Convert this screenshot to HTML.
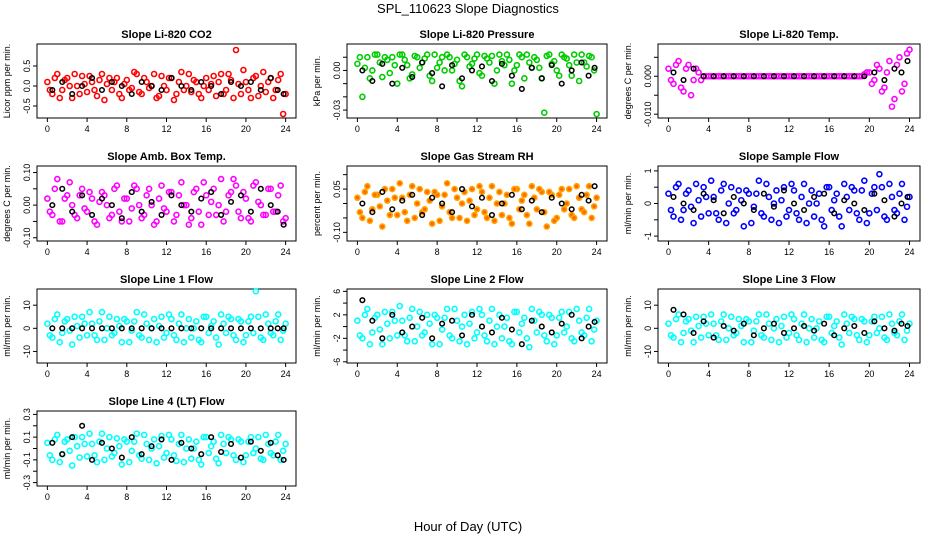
<!DOCTYPE html>
<html><head><meta charset="utf-8"><style>
body{margin:0;background:#fff;}
svg{display:block;font-family:"Liberation Sans",Arial,sans-serif;}
</style></head><body>
<svg id="c" width="936" height="540" viewBox="0 0 936 540">
<text x="468" y="13" text-anchor="middle" font-size="13">SPL_110623  Slope Diagnostics</text>
<text x="468" y="531" text-anchor="middle" font-size="13">Hour of Day (UTC)</text>
</svg>
<script>
const hours=[0,0.5,1,1.5,2,2.5,3,3.5,4,4.5,5,5.5,6,6.5,7,7.5,8,8.5,9,9.5,10,10.5,11,11.5,12,12.5,13,13.5,14,14.5,15,15.5,16,16.5,17,17.5,18,18.5,19,19.5,20,20.5,21,21.5,22,22.5,23,23.5,24];
const hours2=[0.25,0.75,1.25,1.75,2.25,2.75,3.25,3.75,4.25,4.75,5.25,5.75,6.25,6.75,7.25,7.75,8.25,8.75,9.25,9.75,10.25,10.75,11.25,11.75,12.25,12.75,13.25,13.75,14.25,14.75,15.25,15.75,16.25,16.75,17.25,17.75,18.25,18.75,19.25,19.75,20.25,20.75,21.25,21.75,22.25,22.75,23.25,23.75];
const blackHours=[0.5,1.5,2.5,3.5,4.5,5.5,6.5,7.5,8.5,9.5,10.5,11.5,12.5,13.5,14.5,15.5,16.5,17.5,18.5,19.5,20.5,21.5,22.5,23.2,23.8];
const xTicks=[0,4,8,12,16,20,24];

const co2Vals=[0.1,-0.2,0.3,-0.1,0.2,-0.3,0.0,0.25,-0.15,0.1,-0.25,0.3,0.05,-0.1,0.2,-0.3,0.15,-0.05,0.3,-0.2,0.1,0.0,-0.3,0.25,-0.1,0.2,-0.2,0.35,0.0,-0.15,0.1,-0.3,0.2,0.05,-0.25,0.3,-0.1,0.15,0.9,-0.2,0.1,-0.3,0.25,0.0,-0.15,0.2,-0.1,0.3,-0.2];
const co2Vals2=[-0.1,0.2,-0.3,0.15,0.0,0.3,-0.2,0.05,0.25,-0.1,0.15,-0.35,0.2,0.1,-0.2,0.05,-0.1,0.35,-0.15,0.2,-0.05,0.3,-0.25,0.0,0.2,-0.35,0.1,-0.1,0.3,0.15,-0.2,0.0,-0.1,0.25,0.1,-0.2,0.3,-0.3,0.05,0.4,-0.1,0.2,-0.25,0.35,0.1,-0.3,0.15,-0.7];
const co2Black=[-0.1,0.1,-0.2,0.0,0.2,-0.1,0.1,0.0,-0.2,0.1,0.0,-0.1,0.2,0.0,-0.1,0.1,0.0,-0.2,0.1,0.0,0.1,-0.1,0.2,-0.1,-0.2];
const presVals=[0.005,-0.02,0.01,0.0,0.012,-0.005,0.008,0.01,-0.01,0.012,0.004,-0.003,0.01,0.006,0.012,-0.008,0.002,0.01,0.012,0.0,0.008,-0.012,0.01,0.005,0.012,-0.004,0.009,0.011,0.0,0.007,0.012,-0.01,0.004,0.01,0.012,0.002,0.008,-0.006,0.011,0.005,0.0,0.012,0.009,-0.004,0.006,0.012,0.003,0.01,-0.033];
const presVals2=[0.01,0.002,-0.006,0.012,0.006,0.01,-0.002,0.004,0.012,0.008,-0.006,0.011,0.002,0.009,-0.004,0.012,0.006,0.0,0.01,0.005,-0.008,0.012,0.003,0.009,-0.002,0.011,0.006,-0.01,0.012,0.004,0.008,0.0,0.012,-0.006,0.006,0.01,0.002,-0.032,0.012,0.007,-0.004,0.01,0.004,0.012,-0.008,0.006,0.011,0.0];
const presBlack=[0.0,-0.008,0.005,-0.01,0.002,-0.005,0.006,-0.002,-0.012,0.004,-0.006,0.0,0.003,-0.008,0.005,-0.004,-0.014,0.002,-0.006,0.004,-0.01,0.0,0.006,-0.004,0.002];
const tempVals=[0.002,-0.002,0.004,-0.004,0.003,-0.001,0.001,0.0,0.0,0.0,0.0,0.0,0.0,0.0,0.0,0.0,0.0,0.0,0.0,0.0,0.0,0.0,0.0,0.0,0.0,0.0,0.0,0.0,0.0,0.0,0.0,0.0,0.0,0.0,0.0,0.0,0.0,0.0,0.0,0.0005,0.001,-0.001,0.002,-0.003,0.004,-0.006,0.005,-0.002,0.007];
const tempVals2=[-0.001,0.003,-0.003,0.002,-0.005,0.002,-0.001,0.0,0.0,0.0,0.0,0.0,0.0,0.0,0.0,0.0,0.0,0.0,0.0,0.0,0.0,0.0,0.0,0.0,0.0,0.0,0.0,0.0,0.0,0.0,0.0,0.0,0.0,0.0,0.0,0.0,0.0,0.0,0.0,0.001,-0.002,0.003,-0.004,0.001,-0.008,0.003,-0.004,0.006];
const tempBlack=[0.001,-0.001,0.002,0.0,0.0,0.0,0.0,0.0,0.0,0.0,0.0,0.0,0.0,0.0,0.0,0.0,0.0,0.0,0.0,0.0,0.001,-0.001,0.002,0.001,0.004];
const ambVals=[0.02,-0.03,0.08,-0.05,0.03,0.0,-0.04,0.05,-0.02,0.02,-0.06,0.04,0.0,-0.03,0.06,-0.05,0.02,-0.01,0.05,-0.04,0.03,0.0,-0.05,0.06,-0.02,0.04,-0.03,0.07,0.0,-0.04,0.05,-0.06,0.03,0.01,-0.03,0.08,-0.02,0.04,0.06,-0.04,0.02,-0.05,0.07,0.0,-0.03,0.05,-0.02,0.06,-0.04];
const ambVals2=[-0.02,0.05,-0.05,0.02,0.07,-0.03,0.03,-0.01,0.04,-0.05,0.01,0.03,-0.04,0.05,-0.02,0.02,-0.05,0.06,0.0,-0.03,0.05,-0.06,0.02,-0.01,0.04,-0.05,0.03,0.0,-0.06,0.04,-0.02,0.07,-0.03,0.05,0.0,-0.05,0.03,0.08,-0.02,0.04,-0.04,0.06,0.01,-0.03,0.05,-0.02,0.03,-0.05];
const ambBlack=[0.0,0.05,-0.02,0.03,-0.03,0.02,0.0,-0.04,0.04,-0.02,0.01,-0.03,0.03,0.0,-0.02,0.02,0.04,-0.03,0.01,0.03,-0.02,0.05,0.0,-0.02,-0.06];
const rhVals=[0.02,-0.05,0.06,-0.02,0.03,-0.08,0.01,0.05,-0.04,0.02,-0.06,0.06,0.0,-0.03,0.04,-0.07,0.03,-0.01,0.07,-0.05,0.02,0.0,-0.06,0.05,-0.02,0.04,-0.05,0.06,0.0,-0.04,0.03,-0.07,0.05,0.01,-0.04,0.06,-0.02,0.04,-0.08,0.03,-0.05,0.05,0.0,-0.04,0.06,-0.02,0.03,-0.05,0.02];
const rhVals2=[-0.03,0.04,-0.06,0.03,-0.01,0.05,-0.04,0.02,0.07,-0.03,0.03,-0.05,0.05,-0.02,0.01,0.04,-0.06,0.03,-0.03,0.05,-0.05,0.04,0.01,-0.04,0.06,-0.03,0.02,-0.06,0.04,0.0,-0.05,0.05,-0.02,0.03,-0.07,0.02,0.05,-0.03,0.04,-0.06,0.03,-0.02,0.05,-0.05,0.02,-0.03,0.06,-0.01];
const rhBlack=[0.0,-0.03,0.04,-0.02,0.01,0.03,-0.04,0.02,0.0,-0.03,0.05,-0.01,0.02,-0.04,0.0,0.03,-0.02,0.01,-0.03,0.02,0.0,-0.02,0.03,0.01,0.06];
const flowVals=[0.3,-0.4,0.6,-0.2,0.4,-0.6,0.1,0.5,-0.3,0.2,-0.5,0.6,0.0,-0.3,0.4,-0.7,0.3,-0.1,0.7,-0.4,0.2,0.0,-0.6,0.5,-0.2,0.4,-0.5,0.6,0.0,-0.4,0.3,-0.7,0.5,0.1,-0.4,0.6,-0.2,0.4,-0.5,0.7,-0.3,0.5,0.9,-0.4,0.6,-0.2,0.3,-0.5,0.2];
const flowVals2=[-0.2,0.5,-0.5,0.3,-0.1,0.6,-0.4,0.2,0.7,-0.3,0.4,-0.6,0.5,-0.2,0.1,0.4,-0.6,0.3,-0.3,0.6,-0.5,0.4,0.1,-0.4,0.6,-0.3,0.2,-0.6,0.4,0.0,-0.5,0.5,-0.2,0.3,-0.7,0.2,0.5,-0.3,0.4,-0.6,0.3,-0.2,0.5,-0.5,0.2,-0.3,0.6,-0.1];
const flowBlack=[0.2,0.0,-0.2,0.3,0.1,-0.3,0.2,0.0,-0.2,0.3,-0.1,0.4,0.0,-0.2,0.2,0.3,-0.3,0.1,0.0,-0.2,0.3,0.1,-0.4,0.0,0.2];
const l1Vals=[2,-4,6,-2,4,-7,1,5,-3,2,-5,7,0,-3,4,-6,3,-1,7,-4,2,0,-6,5,-2,4,-5,6,0,-4,3,-6,5,1,-4,6,-2,4,-5,3,-3,5,16,-4,6,-2,3,-5,2];
const l1Vals2=[-3,4,-6,3,-1,5,-4,2,7,-3,3,-5,5,-2,1,4,-6,3,-3,6,-5,4,1,-4,6,-3,2,-6,4,0,-5,5,-2,3,-7,2,5,-3,4,-6,3,-2,5,-5,2,-3,6,-1];
const l1Black=[0,0,0,0,0,0,0,0,0,0,0,0,0,0,0,0,0,0,0,0,0,0,0,0,0];
const l2Vals=[1,-2,3,-1,2,-3,0.5,2.5,-1.5,1,-2.5,3,0,-1.5,2,-3,1.5,-0.5,3,-2,1,0,-3,2.5,-1,2,-2.5,3,0,-2,1.5,-3,2.5,0.5,-2,3,-1,2,-2.5,1.5,-1.5,2.5,0,-2,3,-1,1.5,-2.5,1];
const l2Vals2=[-1.5,2,-3,1.5,-0.5,2.5,-2,1,3.5,-1.5,1.5,-2.5,2.5,-1,0.5,2,-3,1.5,-1.5,3,-2.5,2,0.5,-2,3,-1.5,1,-3,2,0,-2.5,2.5,-1,1.5,-3.5,1,2.5,-1.5,2,-3,1.5,-1,2.5,-2.5,1,-1.5,3,-0.5];
const l2Black=[4.5,1,-2,2,-1,0,1.5,-2,0.5,1,-1.5,2,0,-1,1.5,-0.5,-3,1,0,-1,0.5,2,-2,0,0.8];
const l3Vals=[2,-4,6,-2,4,-6,1,5,-3,2,-5,6,0,-3,4,-6,3,-1,6,-4,2,0,-6,5,-2,4,-5,6,0,-4,3,-6,5,1,-4,6,-2,4,-5,3,-3,5,0,-4,6,-2,3,-5,2];
const l3Vals2=[-3,4,-6,3,-1,5,-4,2,6,-3,3,-5,5,-2,1,4,-6,3,-3,6,-5,4,1,-4,6,-3,2,-6,4,0,-5,5,-2,3,-7,2,5,-3,4,-6,3,-2,5,-5,2,-3,6,-1];
const l3Black=[8,6,-2,3,-4,1,-1,2,-3,0,2,-2,0,1,-1,2,-3,0,1,-2,3,0,-1,2,1];
const l4Vals=[0.05,-0.1,0.12,-0.05,0.08,-0.15,0.02,0.1,-0.07,0.04,-0.12,0.13,0.0,-0.07,0.09,-0.14,0.06,-0.02,0.13,-0.09,0.04,0.0,-0.13,0.11,-0.04,0.08,-0.11,0.12,0.0,-0.09,0.06,-0.14,0.1,0.02,-0.09,0.12,-0.04,0.08,-0.1,0.06,-0.06,0.1,0.0,-0.09,0.12,-0.04,0.06,-0.1,0.04];
const l4Vals2=[-0.06,0.08,-0.12,0.06,-0.02,0.1,-0.08,0.04,0.13,-0.06,0.06,-0.1,0.1,-0.04,0.02,0.08,-0.12,0.06,-0.06,0.12,-0.1,0.08,0.02,-0.08,0.12,-0.06,0.04,-0.12,0.08,0.0,-0.1,0.1,-0.04,0.06,-0.13,0.04,0.1,-0.06,0.08,-0.12,0.06,-0.04,0.1,-0.1,0.04,-0.06,0.12,-0.02];
const l4Black=[0.05,-0.05,0.1,0.2,-0.1,0.05,0.0,-0.08,0.1,-0.05,0.02,0.08,-0.1,0.05,0.0,-0.05,0.1,-0.03,0.04,-0.08,0.06,-0.02,0.05,-0.06,-0.1];

const panels=[
 {name:"co2",title:"Slope Li-820 CO2",yt:"Licor ppm per min.",x0:37,x1:296,y0:44,y1:118,ymin:-0.8,ymax:1.05,ticks:[-0.5,0,0.5],lab:["-0.5","0.0","0.5"],col:"#ff0000",fill:"none",v:co2Vals,v2:co2Vals2,b:co2Black},
 {name:"pressure",title:"Slope Li-820 Pressure",yt:"kPa per min.",x0:347,x1:607,y0:44,y1:118,ymin:-0.036,ymax:0.02,ticks:[-0.03,-0.02,-0.01,0,0.01],lab:["-0.03","","","0.00",""],col:"#00cc00",fill:"none",v:presVals,v2:presVals2,b:presBlack},
 {name:"temp",title:"Slope Li-820 Temp.",yt:"degrees C per min.",x0:658,x1:920,y0:44,y1:118,ymin:-0.011,ymax:0.0085,ticks:[-0.01,-0.005,0,0.005],lab:["-0.010","","0.000",""],col:"#ff00ff",fill:"none",v:tempVals,v2:tempVals2,b:tempBlack},
 {name:"amb-box-temp",title:"Slope Amb. Box Temp.",yt:"degrees C per min.",x0:37,x1:296,y0:166,y1:241,ymin:-0.11,ymax:0.12,ticks:[-0.1,-0.05,0,0.05,0.1],lab:["-0.10","","0.00","","0.10"],col:"#ff00ff",fill:"none",v:ambVals,v2:ambVals2,b:ambBlack},
 {name:"gas-rh",title:"Slope Gas Stream RH",yt:"percent per min.",x0:347,x1:607,y0:166,y1:241,ymin:-0.13,ymax:0.13,ticks:[-0.1,-0.05,0,0.05,0.1],lab:["-0.10","","","0.05",""],col:"#ffa500",fill:"#ff6600",v:rhVals,v2:rhVals2,b:rhBlack},
 {name:"sample-flow",title:"Slope Sample Flow",yt:"ml/min per min.",x0:658,x1:920,y0:166,y1:241,ymin:-1.15,ymax:1.15,ticks:[-1,-0.5,0,0.5,1],lab:["-1","","0","","1"],col:"#0000ff",fill:"none",v:flowVals,v2:flowVals2,b:flowBlack},
 {name:"line1-flow",title:"Slope Line 1 Flow",yt:"ml/min per min.",x0:37,x1:296,y0:289,y1:363,ymin:-15,ymax:17,ticks:[-10,0,10],lab:["-10","0","10"],col:"#00ffff",fill:"none",v:l1Vals,v2:l1Vals2,b:l1Black},
 {name:"line2-flow",title:"Slope Line 2 Flow",yt:"ml/min per min.",x0:347,x1:607,y0:289,y1:363,ymin:-6.2,ymax:6.4,ticks:[-6,-4,-2,0,2,4,6],lab:["-6","","-2","","2","","6"],col:"#00ffff",fill:"none",v:l2Vals,v2:l2Vals2,b:l2Black},
 {name:"line3-flow",title:"Slope Line 3 Flow",yt:"ml/min per min.",x0:658,x1:920,y0:289,y1:363,ymin:-15,ymax:17,ticks:[-10,0,10],lab:["-10","0","10"],col:"#00ffff",fill:"none",v:l3Vals,v2:l3Vals2,b:l3Black},
 {name:"line4-flow",title:"Slope Line 4 (LT) Flow",yt:"ml/min per min.",x0:37,x1:296,y0:411,y1:486,ymin:-0.33,ymax:0.33,ticks:[-0.3,-0.2,-0.1,0,0.1,0.2,0.3],lab:["-0.3","","-0.1","","0.1","","0.3"],col:"#00ffff",fill:"none",v:l4Vals,v2:l4Vals2,b:l4Black}
];
const NS="http://www.w3.org/2000/svg";
const svg=document.getElementById('c');
function mk(t,a,p){const e=document.createElementNS(NS,t);for(const k in a)e.setAttribute(k,a[k]);(p||svg).appendChild(e);return e;}
panels.forEach(p=>{
 const g=mk('g',{});
 
 
 const pad=(p.x1-p.x0)*0.04;
 const xs=h=>p.x0+pad+(h/24)*(p.x1-p.x0-2*pad);
 const ys=v=>p.y1-(v-p.ymin)/(p.ymax-p.ymin)*(p.y1-p.y0);
 const box=mk('rect',{x:p.x0,y:p.y0,width:p.x1-p.x0,height:p.y1-p.y0,fill:'none',stroke:'#000','stroke-width':1},g);
 
 
 const t=mk('text',{x:(p.x0+p.x1)/2,y:p.y0-6,'text-anchor':'middle','font-size':11,'font-weight':'bold'},g);
 t.textContent=p.title;
 
 
 xTicks.forEach(h=>{
  mk('line',{x1:xs(h),x2:xs(h),y1:p.y1,y2:p.y1+4,stroke:'#000'},g);
  const l=mk('text',{x:xs(h),y:p.y1+14,'text-anchor':'middle','font-size':9},g);
  l.textContent=h;
  
  
 });
 p.ticks.forEach((v,i)=>{
  mk('line',{x1:p.x0-4,x2:p.x0,y1:ys(v),y2:ys(v),stroke:'#000'},g);
  const l=mk('text',{x:p.x0-7,y:ys(v),'text-anchor':'middle','font-size':9,transform:`rotate(-90 ${p.x0-7} ${ys(v)})`},g);
  l.textContent=p.lab[i];
  
  
 });
 const cy=(p.y0+p.y1)/2, cx=p.x0-27;
 const yt=mk('text',{x:cx,y:cy,'text-anchor':'middle','font-size':9,transform:`rotate(-90 ${cx} ${cy})`},g);
 yt.textContent=p.yt;
 
 
 p.v.forEach((v,i)=>{
  const c=mk('circle',{cx:xs(hours[i]),cy:ys(v),r:2.5,fill:p.fill,stroke:p.col,'stroke-width':1.6},g);
  
  
 });
 p.v2.forEach((v,i)=>{
  const c=mk('circle',{cx:xs(hours2[i]),cy:ys(v),r:2.5,fill:p.fill,stroke:p.col,'stroke-width':1.6},g);
  
  
 });
 p.b.forEach((v,i)=>{
  const c=mk('circle',{cx:xs(blackHours[i]),cy:ys(v),r:2.3,fill:'none',stroke:'#000','stroke-width':1.5},g);
  
  
 });
});
</script>
</body></html>
